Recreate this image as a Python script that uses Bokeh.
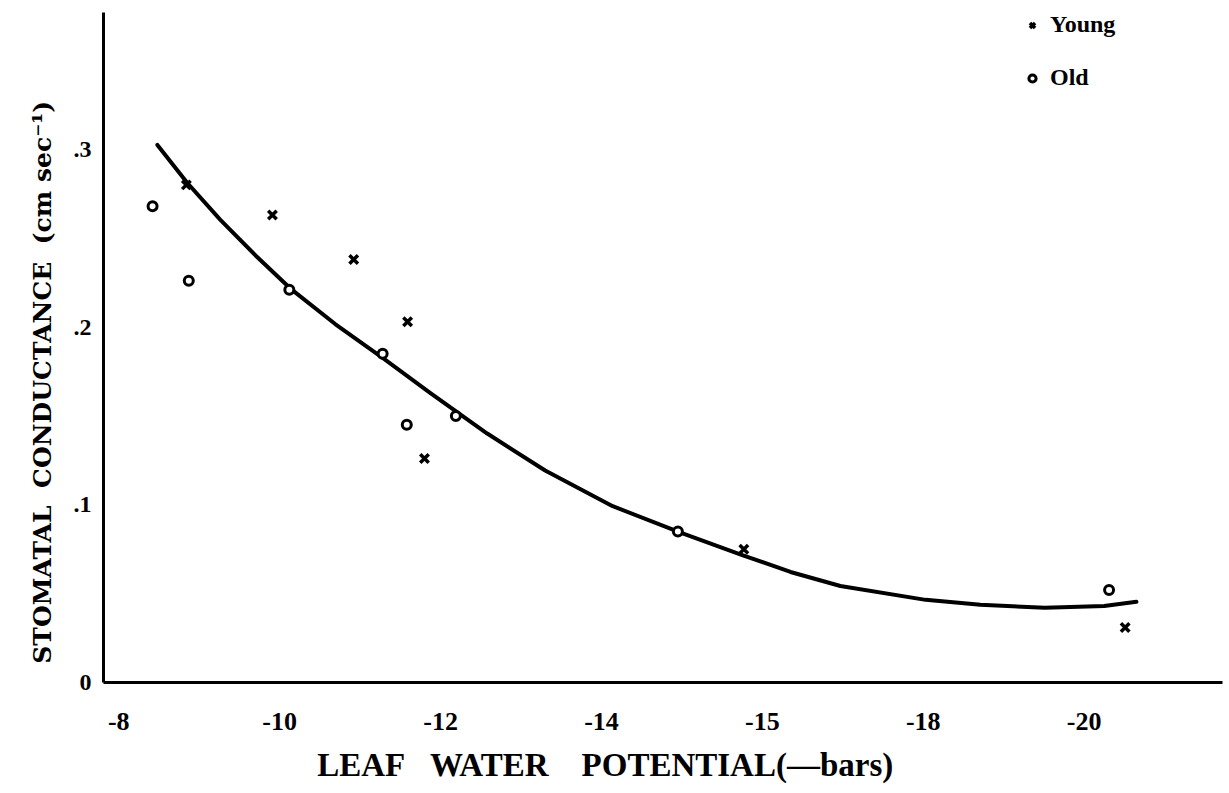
from bokeh.plotting import figure
from bokeh.models import FixedTicker, Legend, LegendItem, Range1d
from bokeh.embed import file_html
from bokeh.resources import INLINE

# Data (x: leaf water potential in bars, y: conductance cm/s)
old_x = [-8.42, -8.87, -10.12, -11.28, -11.58, -12.19, -14.95, -20.31]
old_y = [0.268, 0.226, 0.221, 0.185, 0.145, 0.150, 0.085, 0.052]

young_x = [-8.84, -9.91, -10.92, -11.59, -11.80, -15.77, -20.51]
young_y = [0.280, 0.263, 0.238, 0.203, 0.126, 0.075, 0.031]

# hand-drawn fitted curve, read along its length
curve_x = [-8.48, -8.85, -9.26, -9.70, -10.13, -10.69, -11.28, -11.87, -12.58,
           -13.30, -14.14, -15.00, -15.75, -16.35, -16.97, -18.03, -18.71,
           -19.51, -20.25, -20.65]
curve_y = [0.3025, 0.2812, 0.2605, 0.2403, 0.2218, 0.2017, 0.1826, 0.1630,
           0.1401, 0.1193, 0.0992, 0.0840, 0.0717, 0.0622, 0.0543, 0.0465,
           0.0437, 0.0420, 0.0431, 0.0454]

x_ticks = [-8, -10, -12, -14, -16, -18, -20]
x_tick_labels = ["-8", "-10", "-12", "-14", "-15", "-18", "-20"]
y_ticks = [0, 0.1, 0.2, 0.3]
y_tick_labels = ["0", ".1", ".2", ".3"]

SERIF = "Liberation Serif"
NB = "\u00a0"

p = figure(width=1225, height=785, output_backend="svg", toolbar_location=None,
           x_range=Range1d(-7.81, -21.72), y_range=Range1d(0, 0.377),
           min_border_left=103, min_border_right=3, min_border_top=12,
           min_border_bottom=100)
p.outline_line_color = None
p.grid.visible = False
p.background_fill_color = "white"

curve = p.line(curve_x, curve_y, line_color="black", line_width=4,
               line_join="round", line_cap="round")
r_young = p.scatter(young_x, young_y, marker="x", size=12, line_color="black",
                    line_width=3.5)
r_old = p.scatter(old_x, old_y, marker="circle", size=9, line_color="black",
                  fill_color="white", line_width=3)

for ax in (p.xaxis[0], p.yaxis[0]):
    ax.axis_line_width = 3
    ax.axis_line_color = "black"
    ax.major_tick_line_color = None
    ax.minor_tick_line_color = None
    ax.major_label_text_font = SERIF
    ax.major_label_text_font_style = "bold"
    ax.major_label_text_color = "black"

p.xaxis.ticker = FixedTicker(ticks=x_ticks)
p.xaxis.major_label_overrides = {t: l for t, l in zip(x_ticks, x_tick_labels)}
p.xaxis.major_label_text_font_size = "26px"
p.xaxis.major_label_standoff = 24
p.xaxis.axis_label = ("LEAF" + NB * 3 + "WATER" + NB * 4 + "POTENTIAL(\u2014bars)"
                      + NB * 14)
p.xaxis.axis_label_text_font = SERIF
p.xaxis.axis_label_text_font_style = "bold"
p.xaxis.axis_label_text_font_size = "33px"
p.xaxis.axis_label_standoff = 14
p.xaxis.axis_label_text_color = "black"

p.yaxis.ticker = FixedTicker(ticks=y_ticks)
p.yaxis.major_label_overrides = {t: l for t, l in zip(y_ticks, y_tick_labels)}
p.yaxis.major_label_text_font_size = "24px"
p.yaxis.major_label_standoff = 6
p.yaxis.axis_label = ("STOMATAL" + NB * 2 + "CONDUCTANCE" + NB * 2 + "(cm" + NB
                      + "sec\u207b\u00b9)" + NB * 8)
p.yaxis.axis_label_text_font = "DejaVu Serif"
p.yaxis.axis_label_text_font_style = "bold"
p.yaxis.axis_label_text_font_size = "25px"
p.yaxis.axis_label_standoff = 14
p.yaxis.axis_label_text_color = "black"

legend = Legend(items=[LegendItem(label="Young", renderers=[r_young]),
                       LegendItem(label="Old", renderers=[r_old])],
                location=(920, 591))
legend.border_line_color = None
legend.background_fill_alpha = 0
legend.label_text_font = SERIF
legend.label_text_font_style = "bold"
legend.label_text_font_size = "24px"
legend.label_text_color = "black"
legend.label_height = 20
legend.glyph_height = 20
legend.glyph_width = 18
legend.spacing = 26
legend.margin = 0
legend.padding = 0
legend.label_standoff = 9
p.add_layout(legend)

open("out.html", "w").write(file_html(p, INLINE))
